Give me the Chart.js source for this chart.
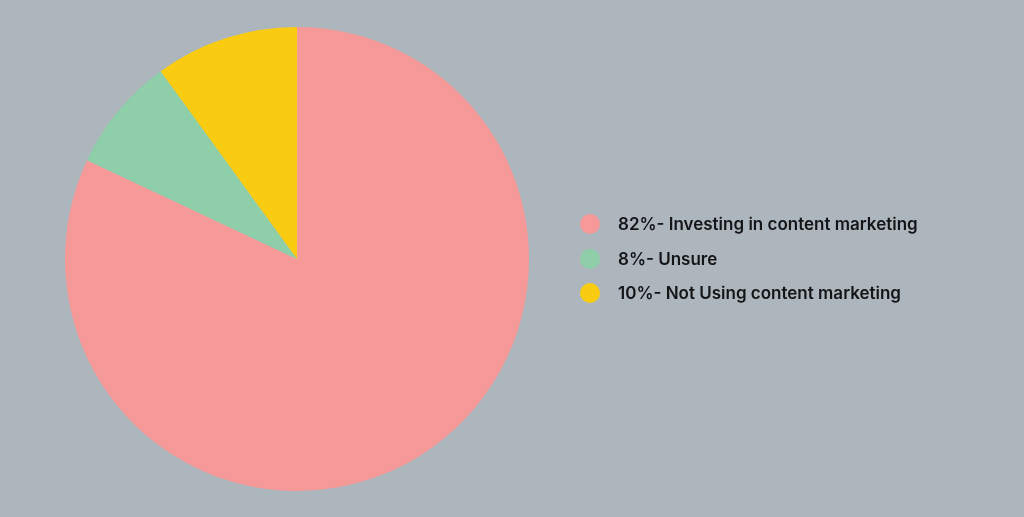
<!DOCTYPE html>
<html>
<head>
<meta charset="utf-8">
<script src="https://cdn.jsdelivr.net/npm/chart.js@4/dist/chart.umd.min.js"></script>
<style>
  html, body { margin:0; padding:0; background:#adb5bd; width:1024px; height:517px; overflow:hidden; }
  #wrap { position:absolute; left:0; top:0; width:1024px; height:517px; }
  #legend { position:absolute; left:580px; top:207px; font-family:Inter, "Noto Sans", sans-serif; font-weight:600; font-size:17px; color:#141517; }
  .row { height:34.5px; display:flex; align-items:center; white-space:nowrap; }
  .dot { width:20px; height:20px; border-radius:50%; margin-right:18px; flex:none; }
</style>
</head>
<body>
<div id="wrap"><canvas id="c" width="1024" height="517"></canvas></div>
<div id="legend"></div>
<script>
const labels = ["82%- Investing in content marketing", "8%- Unsure", "10%- Not Using content marketing"];
const values = [82, 8, 10];
const colors = ["#f59a98", "#8ecfa9", "#f9cc11"];

const chart = new Chart(document.getElementById('c'), {
  type: 'pie',
  data: { labels: labels, datasets: [{ data: values, backgroundColor: colors, borderWidth: 0 }] },
  options: {
    responsive: false,
    animation: false,
    layout: { padding: { left: 65, right: 495, top: 27, bottom: 26 } },
    plugins: { legend: { display: false }, tooltip: { enabled: false } }
  }
});

const lg = document.getElementById('legend');
labels.forEach((l, i) => {
  const r = document.createElement('div'); r.className = 'row';
  const d = document.createElement('span'); d.className = 'dot'; d.style.background = colors[i];
  const t = document.createElement('span'); t.textContent = l;
  r.appendChild(d); r.appendChild(t); lg.appendChild(r);
});
</script>
</body>
</html>
